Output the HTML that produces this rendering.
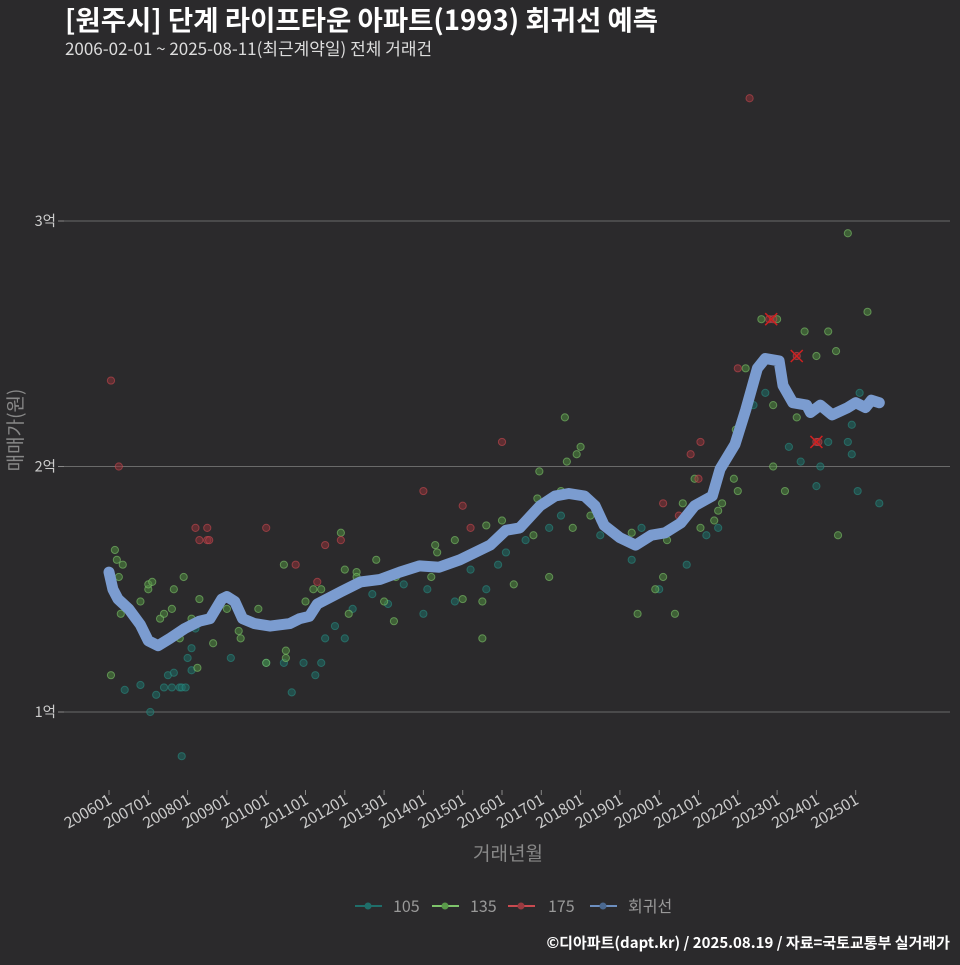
<!DOCTYPE html>
<html><head><meta charset="utf-8"><style>
body{margin:0;background:#2b2a2c;}
svg text{font-family:"Noto Sans CJK KR","Liberation Sans",sans-serif;}
</style></head><body>
<svg width="960" height="960" xmlns="http://www.w3.org/2000/svg">
<rect width="960" height="960" fill="#2b2a2c"/>
<text x="65" y="30" fill="#fff" font-size="27.5" font-weight="bold">[원주시] 단계 라이프타운 아파트(1993) 회귀선 예측</text>
<text x="65" y="55" fill="#ddd" font-size="17">2006-02-01 ~ 2025-08-11(최근계약일) 전체 거래건</text>
<g id="grid"></g>
<g id="xaxis"></g>
<g id="pts"></g>
<g id="reg"></g>
<text x="0" y="0" transform="translate(22,430) rotate(-90)" text-anchor="middle" fill="#888" font-size="19">매매가(원)</text>
<text x="508" y="860" text-anchor="middle" fill="#888" font-size="19">거래년월</text>
<g font-size="16" fill="#999">
<g><line x1="355" y1="906" x2="382" y2="906" stroke="#1f6e6a" stroke-width="2"/><circle cx="368" cy="906" r="3.5" fill="#1f6e6a"/><text x="393" y="912">105</text></g>
<g><line x1="432" y1="906" x2="459" y2="906" stroke="#7ec46b" stroke-width="2"/><circle cx="445" cy="906" r="3.5" fill="#5a9a4a"/><text x="470" y="912">135</text></g>
<g><line x1="508" y1="906" x2="535" y2="906" stroke="#c94a50" stroke-width="2"/><circle cx="521" cy="906" r="3.5" fill="#9a3a40"/><text x="548" y="912">175</text></g>
<g><line x1="590" y1="906" x2="617" y2="906" stroke="#6d8fc0" stroke-width="2"/><circle cx="603" cy="906" r="3.5" fill="#4a6890"/><text x="628" y="912">회귀선</text></g>
</g>
<text x="950" y="948" text-anchor="end" fill="#fff" font-size="15" font-weight="bold">©디아파트(dapt.kr) / 2025.08.19 / 자료=국토교통부 실거래가</text>
</svg>
<script>
const yTicks=[1,2,3];
const yTickLabels=["1억","2억","3억"];
const xTickYears=[2006,2007,2008,2009,2010,2011,2012,2013,2014,2015,2016,2017,2018,2019,2020,2021,2022,2023,2024,2025];
const xTickLabels=["200601","200701","200801","200901","201001","201101","201201","201301","201401","201501","201601","201701","201801","201901","202001","202101","202201","202301","202401","202501"];
const regT=[2006.0,2006.1,2006.23,2006.5,2006.8,2007.0,2007.25,2007.55,2007.93,2008.3,2008.57,2008.87,2009.0,2009.2,2009.4,2009.7,2010.1,2010.6,2010.85,2011.1,2011.3,2011.9,2012.4,2012.9,2013.4,2013.9,2014.4,2014.93,2015.7,2016.1,2016.45,2016.97,2017.35,2017.7,2018.1,2018.37,2018.6,2019.0,2019.4,2019.8,2020.15,2020.55,2020.9,2021.35,2021.55,2021.93,2022.2,2022.5,2022.7,2023.05,2023.15,2023.4,2023.75,2023.85,2024.1,2024.4,2024.8,2025.0,2025.25,2025.4,2025.6];
const regV=[1.57,1.50,1.46,1.42,1.355,1.29,1.27,1.30,1.34,1.37,1.38,1.46,1.47,1.45,1.38,1.36,1.35,1.36,1.38,1.39,1.44,1.49,1.53,1.54,1.57,1.595,1.59,1.62,1.68,1.74,1.75,1.84,1.88,1.89,1.88,1.84,1.76,1.71,1.68,1.72,1.73,1.77,1.84,1.88,1.99,2.09,2.23,2.40,2.44,2.43,2.33,2.26,2.25,2.22,2.25,2.21,2.24,2.26,2.24,2.27,2.26];
const redT=[2006.05,2006.25,2008.2,2008.3,2008.5,2008.5,2008.55,2010.0,2010.75,2011.3,2011.5,2011.9,2014.0,2015.0,2015.2,2016.0,2020.1,2020.5,2020.8,2021.0,2021.05,2022.0,2022.3,2022.8,2022.9,2023.5,2024.0,2024.05];
const redV=[2.35,2.0,1.75,1.70,1.75,1.70,1.70,1.75,1.60,1.53,1.68,1.70,1.90,1.84,1.75,2.10,1.85,1.80,2.05,1.95,2.10,2.40,3.5,2.60,2.60,2.45,2.10,2.10];
const greenT=[2006.05,2006.15,2006.2,2006.25,2006.3,2006.35,2006.3,2006.8,2007.0,2007.0,2007.1,2007.3,2007.4,2007.6,2007.65,2007.9,2007.8,2008.1,2008.3,2008.25,2008.65,2009.0,2009.3,2009.35,2009.8,2010.0,2010.45,2010.5,2010.5,2011.0,2011.2,2011.4,2011.5,2011.9,2012.0,2012.3,2012.3,2012.1,2012.8,2013.0,2013.25,2013.3,2013.9,2014.2,2014.3,2014.35,2014.8,2015.0,2015.5,2015.5,2015.6,2016.0,2016.3,2016.5,2016.8,2016.9,2016.95,2017.2,2017.5,2017.6,2017.65,2017.8,2017.9,2018.0,2018.25,2018.5,2019.3,2019.45,2019.9,2020.1,2020.2,2020.4,2020.6,2020.7,2020.9,2021.05,2021.4,2021.5,2021.6,2021.9,2021.95,2022.0,2022.2,2022.6,2022.9,2023.0,2022.9,2023.2,2023.5,2023.7,2024.0,2024.3,2024.5,2024.55,2024.8,2025.2,2025.3];
const greenV=[1.15,1.66,1.62,1.55,1.40,1.60,1.45,1.45,1.50,1.52,1.53,1.38,1.40,1.42,1.50,1.55,1.30,1.38,1.46,1.18,1.28,1.42,1.33,1.30,1.42,1.20,1.60,1.22,1.25,1.45,1.50,1.50,1.46,1.73,1.58,1.57,1.55,1.40,1.62,1.45,1.37,1.55,1.60,1.55,1.68,1.65,1.70,1.46,1.45,1.30,1.76,1.78,1.52,1.75,1.72,1.87,1.98,1.55,1.90,2.20,2.02,1.75,2.05,2.08,1.80,1.78,1.73,1.40,1.50,1.55,1.70,1.40,1.85,1.80,1.95,1.75,1.78,1.82,1.85,1.95,2.15,1.90,2.40,2.60,2.25,2.60,2.00,1.90,2.20,2.55,2.45,2.55,2.47,1.72,2.95,2.25,2.63];
const tealT=[2006.4,2006.8,2007.05,2007.2,2007.4,2007.5,2007.6,2007.65,2007.8,2007.85,2007.95,2008.0,2008.1,2008.2,2008.1,2007.85,2009.1,2010.0,2010.45,2010.65,2010.95,2011.25,2011.4,2011.5,2011.75,2012.0,2012.2,2012.7,2013.1,2013.5,2014.0,2014.1,2014.8,2015.2,2015.6,2015.9,2016.1,2016.6,2017.2,2017.5,2018.5,2019.3,2019.55,2020.0,2020.7,2021.2,2021.5,2022.4,2022.7,2023.3,2023.6,2024.0,2024.1,2024.3,2024.8,2024.9,2025.05,2024.9,2025.1,2025.6];
const tealV=[1.09,1.11,1.00,1.07,1.10,1.15,1.10,1.16,1.10,1.10,1.10,1.22,1.17,1.34,1.26,0.82,1.22,1.20,1.20,1.08,1.20,1.15,1.20,1.30,1.35,1.30,1.42,1.48,1.44,1.52,1.40,1.50,1.45,1.58,1.50,1.60,1.65,1.70,1.75,1.80,1.72,1.62,1.75,1.50,1.60,1.72,1.75,2.25,2.30,2.08,2.02,1.92,2.00,2.10,2.10,2.05,1.90,2.17,2.30,1.85];
const xMarkT=[2022.85,2023.5,2024.0];
const xMarkV=[2.60,2.45,2.10];

const NS="http://www.w3.org/2000/svg";
function X(t){return 109+(t-2006)*39.3;}
function Y(v){return 712-(v-1)*245.5;}
function mk(tag,attrs,parent){const e=document.createElementNS(NS,tag);for(const k in attrs)e.setAttribute(k,attrs[k]);parent.appendChild(e);return e;}
const grid=document.getElementById('grid');
yTicks.forEach((v,i)=>{
 const l=mk('line',{x1:64,x2:950,y1:Y(v),y2:Y(v),stroke:'#6a6a6a','stroke-width':1},grid);
 
 
 mk('line',{x1:58,x2:64,y1:Y(v),y2:Y(v),stroke:'#888'},grid);
 const t=mk('text',{x:56,y:Y(v)+5,'text-anchor':'end',fill:'#ccc','font-size':14.5},grid);
 
 
 t.textContent=yTickLabels[i];
});
const xa=document.getElementById('xaxis');
xTickYears.forEach((yr,i)=>{
 const x=X(yr);
 mk('line',{x1:x,x2:x,y1:790,y2:795,stroke:'#888'},xa);
 const t=mk('text',{x:0,y:0,transform:`translate(${x+4},${803}) rotate(-30)`,'text-anchor':'end',fill:'#ccc','font-size':15.5},xa);
 
 
 t.textContent=xTickLabels[i];
});
const pts=document.getElementById('pts');
function series(T,V,fill,stroke,name){
 T.forEach((t,i)=>{
  const c=mk('circle',{cx:X(t),cy:Y(V[i]),r:3.6,fill:fill,'fill-opacity':0.55,stroke:stroke,'stroke-opacity':0.6,'stroke-width':1},pts);
  
  
 });
}
series(tealT,tealV,'#1d6b66','#2a8a80','point-105');
series(greenT,greenV,'#4f8a40','#7ec46b','point-135');
series(redT,redV,'#8a3238','#c94a50','point-175');
xMarkT.forEach((t,i)=>{
 const x=X(t),y=Y(xMarkV[i]);
 const p=mk('path',{d:`M${x-6},${y-6}L${x+6},${y+6}M${x-6},${y+6}L${x+6},${y-6}`,stroke:'#d02020','stroke-width':1.5},pts);
 
 
});
const reg=document.getElementById('reg');
const d=regT.map((t,i)=>(i?'L':'M')+X(t).toFixed(1)+','+Y(regV[i]).toFixed(1)).join('');
const rl=mk('path',{d:d,fill:'none',stroke:'#7b9cd0','stroke-width':11,'stroke-linejoin':'round','stroke-linecap':'round'},reg);


</script>
</body></html>
